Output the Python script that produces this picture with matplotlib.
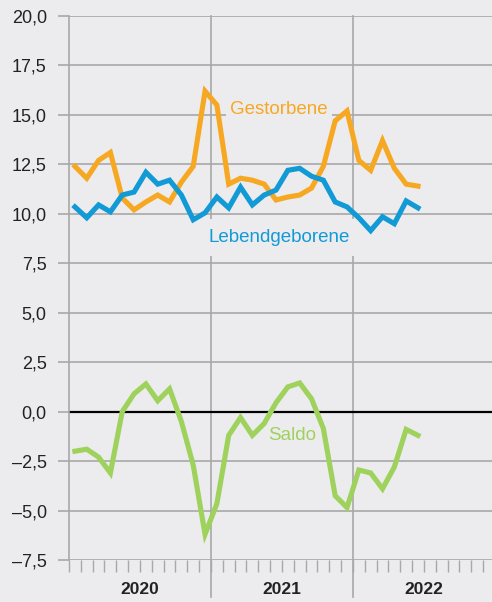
import numpy as np
import matplotlib.pyplot as plt

plt.rcParams['font.family'] = ['Liberation Sans', 'DejaVu Sans']

# monthly values, Jan 2020 .. Jun 2022
gestorbene = [12.4, 11.8, 12.7, 13.1, 10.8, 10.2, 10.6, 10.95, 10.6, 11.6,
              12.4, 16.2, 15.5, 11.5, 11.8, 11.7, 11.5, 10.7, 10.85, 10.95,
              11.3, 12.4, 14.7, 15.2, 12.7, 12.2, 13.7, 12.3, 11.5, 11.4]
lebendgeborene = [10.35, 9.8, 10.45, 10.1, 10.95, 11.1, 12.1, 11.5, 11.7, 10.95,
                  9.7, 10.05, 10.85, 10.3, 11.35, 10.45, 10.95, 11.2, 12.2, 12.3,
                  11.9, 11.7, 10.6, 10.35, 9.8, 9.15, 9.85, 9.5, 10.65, 10.3]
saldo = [-2.0, -1.9, -2.3, -3.1, 0.0, 0.9, 1.4, 0.55, 1.15, -0.5,
         -2.7, -6.2, -4.65, -1.2, -0.3, -1.2, -0.6, 0.45, 1.25, 1.45,
         0.65, -0.85, -4.25, -4.85, -2.95, -3.1, -3.9, -2.8, -0.9, -1.2]
jahre = ['2020', '2021', '2022']
yticks = np.arange(-7.5, 20.01, 2.5)

bg = '#ECECEE'
grid = '#A8A8A8'
c_orange = '#F7A823'
c_blue = '#119AD6'
c_green = '#9ED25C'

fig = plt.figure(figsize=(4.92, 6.02), dpi=100, facecolor=bg)
ax = fig.add_axes([69/492, 42/602, 423/492, 544/602], facecolor=bg)

x = np.arange(len(saldo)) + 0.5
ax.plot(x, gestorbene, color=c_orange, lw=3.7, zorder=4, solid_joinstyle='miter')
ax.plot(x, lebendgeborene, color=c_blue, lw=3.7, zorder=4, solid_joinstyle='miter')
ax.plot(x, saldo, color=c_green, lw=3.7, zorder=4, solid_joinstyle='miter')

ax.set_xlim(0, 423/11.83)
ax.set_ylim(-7.5, 20)

ax.set_yticks(yticks)
ax.set_yticklabels([('%.1f' % v).replace('.', ',').replace('-', '\u2013') for v in yticks],
                   fontsize=13, color='#222222')
ax.tick_params(axis='y', length=8, width=1.2, color=grid, pad=8)
ax.grid(axis='y', color=grid, lw=1.2, zorder=1)
ax.axhline(0, color='black', lw=1.6, zorder=2)

ax.set_xticks(np.arange(0, 36))
ax.set_xticklabels([])
ax.tick_params(axis='x', length=8.6, width=1, color=grid)

for s in ['top', 'right', 'bottom']:
    ax.spines[s].set_visible(False)
ax.spines['left'].set_color(grid)
ax.spines['left'].set_linewidth(1.2)

for xv in [12, 24]:
    ax.axvline(xv, ymin=-37/544, ymax=1, color=grid, lw=1.2, zorder=1, clip_on=False)

for i, j in enumerate(jahre):
    ax.text(6 + 12*i, -0.055, j, transform=ax.get_xaxis_transform(), ha='center', va='center',
            fontsize=12.5, fontweight='bold', color='#222222')

ax.text(17.75, 15.25, 'Gestorbene', color=c_orange, fontsize=13.5, ha='center', va='center',
        bbox=dict(facecolor=bg, edgecolor='none', pad=3), zorder=3)
ax.text(17.8, 8.8, 'Lebendgeborene', color=c_blue, fontsize=13.5, ha='center', va='center',
        bbox=dict(facecolor=bg, edgecolor='none', pad=7), zorder=3)
ax.text(18.85, -1.2, 'Saldo', color=c_green, fontsize=13.5, ha='center', va='center', zorder=3)

fig.savefig('out.png', dpi=100, facecolor=bg)
